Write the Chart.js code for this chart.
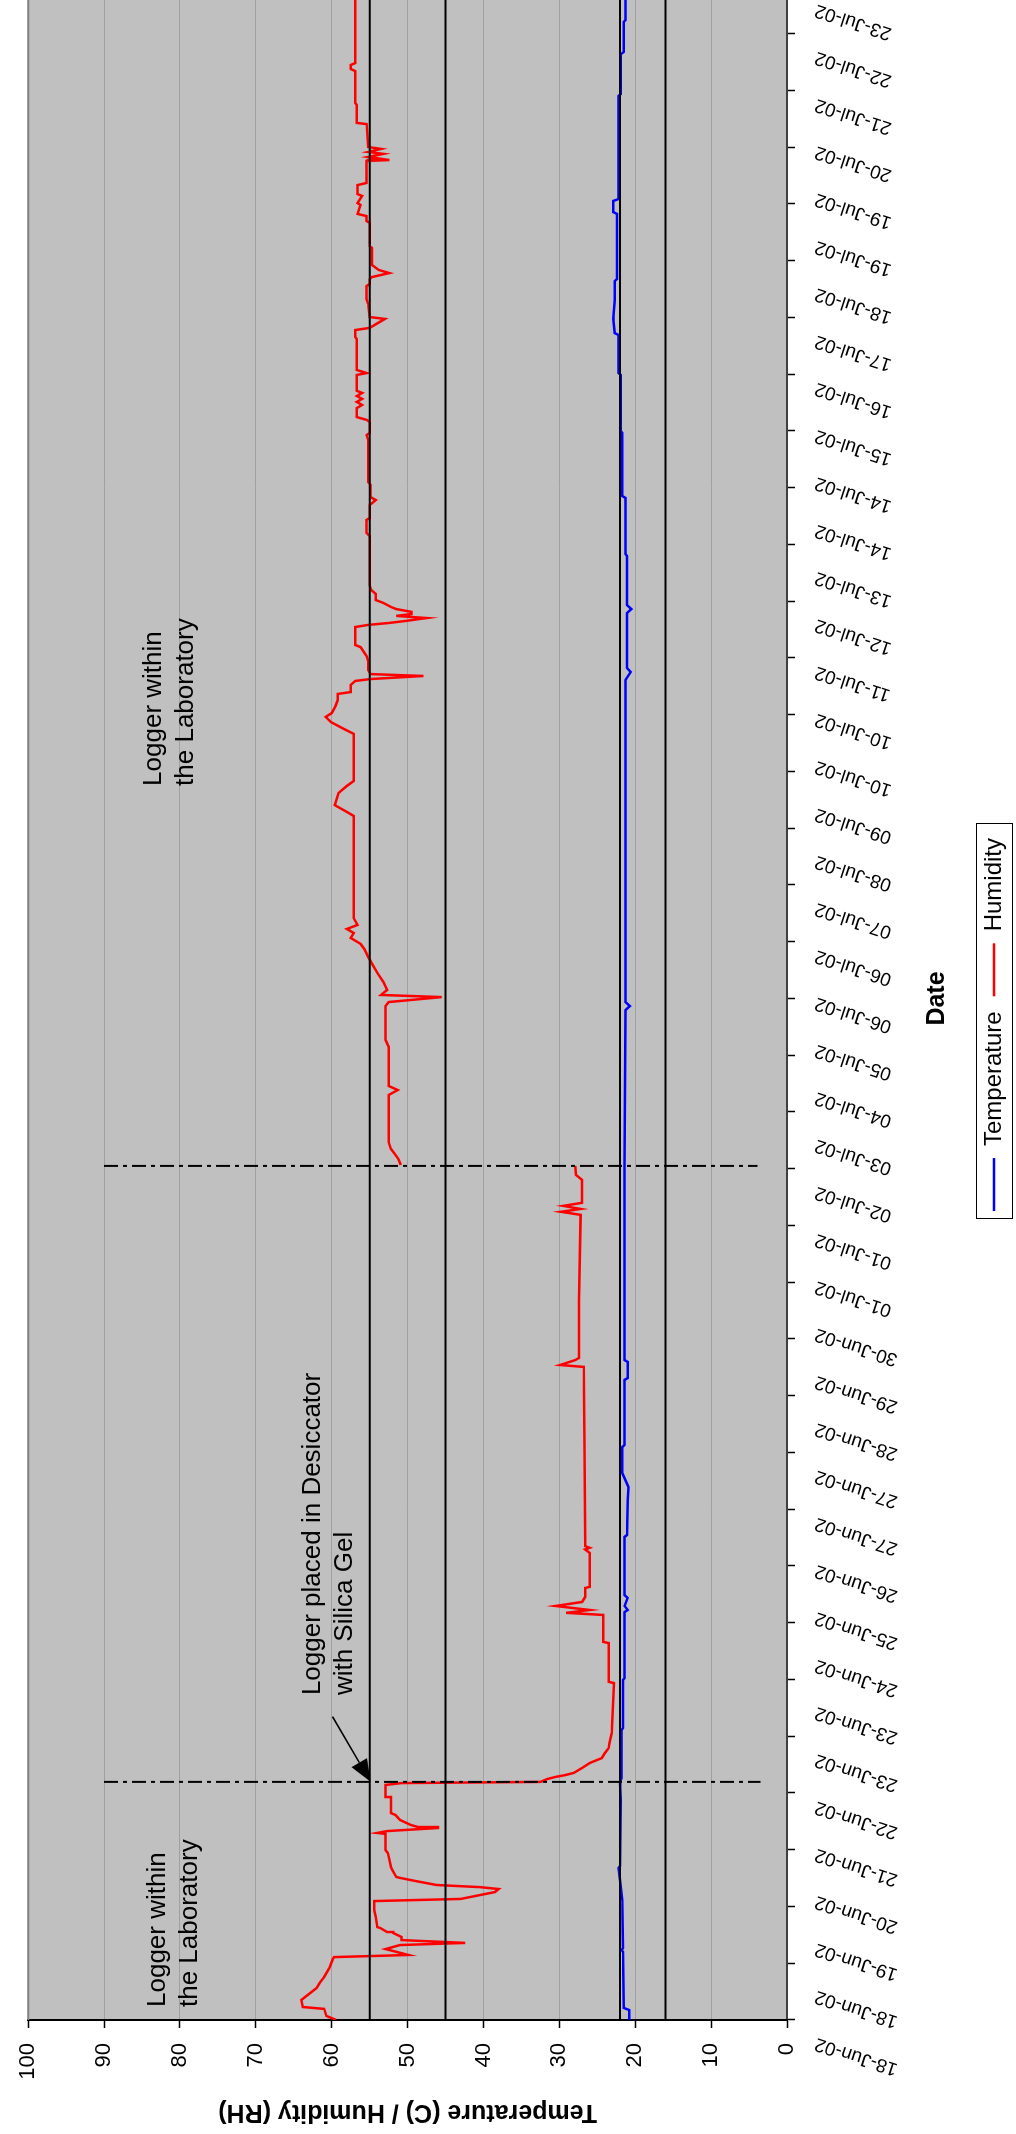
<!DOCTYPE html>
<html>
<head>
<meta charset="utf-8">
<title>Temperature and Humidity Log</title>
<script src="https://cdn.jsdelivr.net/npm/chart.js@4.4.1/dist/chart.umd.min.js"></script>
<style>
  html, body { margin: 0; padding: 0; background: #ffffff; overflow: hidden; width: 1016px; height: 2134px; }
  /* the chart is laid out landscape and turned a quarter turn anticlockwise onto the page */
  #wrap { position: absolute; left: 0; top: 0; width: 2219px; height: 1016px;
          transform-origin: 0 0; transform: translate(0, 2134px) rotate(-90deg); }
  canvas { display: block; }
</style>
</head>
<body>
<div id="wrap"><canvas id="chart" width="2219" height="1016"></canvas></div>
<script>
// elapsed time is in hours from the start of the logging period
const dateLabels = [
  '18-Jun-02','18-Jun-02','19-Jun-02','20-Jun-02','21-Jun-02','22-Jun-02','23-Jun-02','23-Jun-02',
  '24-Jun-02','25-Jun-02','26-Jun-02','27-Jun-02','27-Jun-02','28-Jun-02','29-Jun-02','30-Jun-02',
  '01-Jul-02','01-Jul-02','02-Jul-02','03-Jul-02','04-Jul-02','05-Jul-02','06-Jul-02','06-Jul-02',
  '07-Jul-02','08-Jul-02','09-Jul-02','10-Jul-02','10-Jul-02','11-Jul-02','12-Jul-02','13-Jul-02',
  '14-Jul-02','14-Jul-02','15-Jul-02','16-Jul-02','17-Jul-02','18-Jul-02','19-Jul-02','19-Jul-02',
  '20-Jul-02','21-Jul-02','22-Jul-02','23-Jul-02'
];
const labelStepHours = 20;     // one date label every 20 h
const tickStepHours = 24;      // one tick mark per day
const labelLeadHours = -9.7;   // first label sits before the axis origin
const spanHours = 864;

// humidity, first laboratory period and the desiccator period
const humidity1Hours = [
  0.0, 1.7, 4.7, 5.5, 8.5, 13.5, 15.6, 18.2, 22.0, 25.4,
  26.6, 27.5, 30.0, 31.7, 32.6, 33.8, 35.1, 36.8, 37.2, 38.9,
  39.3, 43.6, 46.5, 50.3, 51.2, 54.1, 55.4, 56.2, 57.1, 58.8,
  60.1, 60.5, 63.4, 64.7, 70.6, 71.9, 78.7, 79.1, 79.9, 81.2,
  81.6, 82.5, 84.6, 86.7, 87.5, 93.9, 94.3, 99.4, 100.2, 100.7,
  101.9, 102.8, 103.6, 104.5, 106.6, 108.7, 110.8, 112.9, 115.0, 117.2,
  121.4, 142.5, 143.0, 159.4, 159.9, 171.3, 172.2, 173.4, 175.1, 176.8,
  178.9, 182.7, 183.2, 197.5, 199.0, 199.7, 200.4, 242.3, 276.2, 277.0,
  279.1, 280.0, 304.5, 340.5, 341.8, 343.0, 344.3, 345.6, 355.3, 357.4,
  361.2
];
const humidity1Values = [
  59.4, 60.7, 61.0, 63.8, 64.0, 62.0, 61.6, 61.0, 60.3, 59.9,
  59.7, 49.9, 52.9, 51.0, 42.4, 50.8, 50.8, 51.9, 52.7, 53.6,
  54.0, 54.2, 54.4, 54.4, 43.0, 38.5, 38.0, 40.5, 46.2, 49.0,
  51.0, 51.5, 52.0, 52.2, 52.6, 52.9, 52.9, 54.0, 52.7, 46.0,
  48.6, 49.6, 51.0, 51.6, 52.2, 52.2, 52.9, 52.9, 50.8, 32.5,
  31.6, 30.5, 29.2, 28.1, 27.0, 26.0, 24.4, 24.0, 23.5, 23.4,
  23.1, 22.8, 23.5, 23.5, 24.2, 24.2, 29.1, 26.0, 30.5, 27.0,
  26.6, 26.6, 26.0, 26.0, 26.6, 26.0, 26.6, 26.7, 26.8, 29.9,
  27.9, 27.4, 27.4, 27.2, 29.8, 27.2, 29.5, 27.0, 27.0, 27.8,
  27.9
];

// humidity, second laboratory period
const humidity2Hours = [
  361.6, 364.1, 366.7, 368.4, 371.3, 391.2, 393.3, 395.0, 411.5, 414.5,
  428.8, 430.5, 432.6, 433.5, 435.6, 439.0, 442.4, 445.7, 449.6, 452.9,
  455.1, 457.6, 459.7, 461.4, 463.1, 466.0, 509.2, 510.9, 513.8, 518.9,
  521.9, 524.0, 543.9, 546.0, 548.9, 551.1, 552.7, 555.7, 558.2, 560.8,
  561.6, 564.6, 566.3, 567.1, 568.4, 569.2, 570.9, 574.7, 576.8, 580.6,
  581.5, 589.1, 590.0, 590.8, 591.7, 592.9, 593.8, 594.6, 595.5, 596.7,
  597.6, 599.3, 600.5, 603.1, 604.8, 606.9, 627.6, 628.9, 634.4, 635.2,
  640.7, 642.8, 644.1, 649.2, 650.4, 668.2, 670.3, 671.2, 675.8, 676.7,
  677.9, 681.7, 683.0, 684.3, 685.6, 686.8, 688.1, 689.0, 695.7, 696.5,
  697.8, 710.9, 711.8, 714.7, 715.6, 717.7, 719.4, 720.2, 725.7, 727.8,
  733.3, 734.2, 736.3, 737.1, 738.8, 740.1, 742.2, 749.4, 750.2, 760.0,
  760.8, 762.9, 763.8, 767.6, 768.4, 771.4, 772.2, 776.0, 776.9, 786.2,
  786.6, 787.9, 789.2, 790.0, 791.3, 792.1, 801.8, 802.3, 809.9, 810.7,
  824.2, 825.1, 826.8, 827.6, 864.0
];
const humidity2Values = [
  50.9, 51.2, 51.8, 52.2, 52.5, 52.5, 51.3, 52.5, 52.5, 52.9,
  52.9, 52.5, 45.5, 53.5, 52.7, 53.2, 53.9, 54.5, 55.2, 55.7,
  56.2, 57.5, 57.1, 58.0, 56.6, 57.1, 57.1, 58.0, 59.6, 59.1,
  58.0, 57.1, 57.1, 58.4, 60.1, 60.8, 60.0, 59.5, 59.2, 59.2,
  57.5, 57.5, 56.9, 54.9, 47.9, 54.9, 55.2, 55.2, 55.4, 56.2,
  56.9, 56.9, 55.2, 52.5, 50.2, 47.5, 51.5, 49.5, 49.5, 51.5,
  52.2, 53.2, 54.2, 54.2, 54.8, 55.0, 55.0, 55.4, 55.4, 55.0,
  55.0, 54.2, 54.9, 54.9, 55.2, 55.2, 55.4, 55.0, 55.0, 55.4,
  56.7, 56.7, 56.0, 56.7, 56.0, 56.7, 56.0, 56.7, 56.7, 55.4,
  56.7, 56.7, 56.9, 56.9, 55.0, 53.9, 53.0, 55.0, 55.2, 55.4,
  55.4, 55.0, 55.0, 54.7, 52.4, 53.8, 54.7, 54.7, 55.0, 55.0,
  55.4, 55.4, 56.6, 56.2, 56.6, 56.0, 56.6, 56.6, 55.4, 55.4,
  52.4, 55.2, 53.2, 55.2, 53.5, 55.2, 55.4, 56.7, 56.7, 56.9,
  56.9, 57.5, 57.5, 56.9, 56.9
];

const temperatureHours = [
  0.0, 4.2, 5.1, 28.8, 29.6, 30.4, 50.7, 59.2, 64.3, 65.1, 93.0, 100.7, 102.3, 122.6, 123.5, 143.8,
  144.6, 172.5, 173.4, 175.1, 178.5, 179.7, 204.3, 205.1, 219.9, 225.4, 231.3, 242.3, 243.2, 270.7,
  271.5, 278.3, 279.1, 361.2, 427.1, 428.8, 430.5, 566.7, 570.1, 571.8, 595.0, 596.7, 598.4, 619.1,
  620.0, 643.7, 644.5, 671.2, 672.0, 695.7, 696.5, 712.6, 713.4, 719.4, 727.4, 735.4, 736.3, 763.8,
  764.6, 769.3, 770.1, 813.7, 814.5, 831.4, 832.3, 845.0, 845.8, 864.0
];
const temperatureValues = [
  20.8, 20.8, 21.5, 21.6, 21.8, 21.6, 21.7, 22.0, 22.2, 22.0, 21.9, 22.0, 21.8, 21.8, 21.6, 21.6,
  21.4, 21.4, 21.0, 21.4, 21.0, 21.4, 21.4, 21.1, 21.0, 20.9, 21.7, 21.7, 21.4, 21.4,
  21.0, 21.0, 21.4, 21.4, 21.3, 20.7, 21.3, 21.3, 20.6, 21.1, 21.1, 20.5, 21.1, 21.1,
  21.3, 21.3, 21.7, 21.7, 21.9, 21.9, 22.2, 22.2, 22.7, 22.9, 22.7, 22.7, 22.4, 22.4,
  22.9, 22.9, 22.2, 22.2, 21.9, 21.9, 21.5, 21.5, 21.3, 21.3
];

// acceptable ranges: humidity 45-55 %RH, temperature 16-22 C
const limitLevels = [55, 45, 22, 16];

// moments the logger was moved
const moveHours = [100.7, 361.2];
const moveTop = [90, 90];
const moveBottom = [3.5, 3.9];

// text notes: anchor hour, value at the top of the first line
const noteLines = [
  ['Logger within', 'the Laboratory'],
  ['Logger placed in Desiccator', 'with Silica Gel'],
  ['Logger within', 'the Laboratory']
];
const noteHours = [5.5, 137.4, 521.9];
const noteValues = [84.5, 64.0, 84.9];

// arrow from the desiccator note to the moment of transfer
const arrowFrom = [128.3, 59.9];
const arrowTo = [100.8, 54.9];

const FONT = '"Liberation Sans", Arial, Helvetica, sans-serif';
Chart.defaults.font.family = FONT;
Chart.defaults.color = '#000000';

const toPoints = (xs, ys) => xs.map((x, i) => ({ x: x, y: ys[i] }));

const humidityPoints = toPoints(humidity1Hours, humidity1Values)
  .concat([{ x: 361.4, y: null }])
  .concat(toPoints(humidity2Hours, humidity2Values));

const datasets = [
  { label: 'Temperature', data: toPoints(temperatureHours, temperatureValues),
    borderColor: '#0000ff', backgroundColor: '#0000ff', borderWidth: 2.5, order: 5 },
  { label: 'Humidity', data: humidityPoints,
    borderColor: '#ff0000', backgroundColor: '#ff0000', borderWidth: 2.5, order: 6, spanGaps: false }
];
limitLevels.forEach((lvl) => {
  datasets.push({ label: 'limit', data: [{ x: 0, y: lvl }, { x: spanHours, y: lvl }],
    borderColor: '#000000', borderWidth: 2, order: 1 });
});
moveHours.forEach((h, i) => {
  datasets.push({ label: 'move', data: [{ x: h, y: moveTop[i] }, { x: h, y: moveBottom[i] }],
    borderColor: '#000000', borderWidth: 2, borderDash: [14, 5, 4, 5], order: 1 });
});

const plotBackground = {
  id: 'plotBackground',
  beforeDraw(chart) {
    const { ctx, chartArea: a } = chart;
    ctx.save();
    ctx.fillStyle = '#c0c0c0';
    ctx.fillRect(a.left, a.top, a.right - a.left, a.bottom - a.top);
    ctx.restore();
  },
  beforeDatasetsDraw(chart) {
    const { ctx, chartArea: a } = chart;
    ctx.save();
    ctx.strokeStyle = '#808080';
    ctx.lineWidth = 2;
    ctx.beginPath();
    ctx.moveTo(a.left, a.top);
    ctx.lineTo(a.right, a.top);
    ctx.lineTo(a.right, a.bottom);
    ctx.stroke();
    ctx.restore();
  }
};

const notes = {
  id: 'notes',
  afterDatasetsDraw(chart) {
    const { ctx } = chart;
    const xs = chart.scales.x, ys = chart.scales.y;
    const size = 26, lineGap = 32;
    ctx.save();
    ctx.fillStyle = '#000000';
    ctx.font = size + 'px ' + FONT;
    ctx.textAlign = 'left';
    ctx.textBaseline = 'alphabetic';
    noteLines.forEach((lines, i) => {
      const x = xs.getPixelForValue(noteHours[i]);
      const top = ys.getPixelForValue(noteValues[i]);
      lines.forEach((t, k) => ctx.fillText(t, x, top + 0.72 * size + k * lineGap));
    });
    // arrow
    const x0 = xs.getPixelForValue(arrowFrom[0]), y0 = ys.getPixelForValue(arrowFrom[1]);
    const x1 = xs.getPixelForValue(arrowTo[0]), y1 = ys.getPixelForValue(arrowTo[1]);
    const ang = Math.atan2(y1 - y0, x1 - x0);
    const headLen = 22, headHalf = 9;
    const bx = x1 - headLen * Math.cos(ang), by = y1 - headLen * Math.sin(ang);
    ctx.strokeStyle = '#000000';
    ctx.lineWidth = 1.5;
    ctx.beginPath();
    ctx.moveTo(x0, y0);
    ctx.lineTo(bx, by);
    ctx.stroke();
    ctx.beginPath();
    ctx.moveTo(x1, y1);
    ctx.lineTo(bx + headHalf * Math.sin(ang), by - headHalf * Math.cos(ang));
    ctx.lineTo(bx - headHalf * Math.sin(ang), by + headHalf * Math.cos(ang));
    ctx.closePath();
    ctx.fill();
    ctx.restore();
  }
};

const legendFrame = {
  id: 'legendFrame',
  afterDraw(chart) {
    const lg = chart.legend;
    if (!lg || !lg.legendHitBoxes || !lg.legendHitBoxes.length) return;
    const hb = lg.legendHitBoxes;
    const left = Math.min(...hb.map(b => b.left)) - 8;
    const right = Math.max(...hb.map(b => b.left + b.width)) + 14;
    const top = Math.min(...hb.map(b => b.top)) - 6;
    const bottom = Math.max(...hb.map(b => b.top + b.height)) + 6;
    const { ctx } = chart;
    ctx.save();
    ctx.strokeStyle = '#000000';
    ctx.lineWidth = 1;
    ctx.strokeRect(Math.round(left) + 0.5, Math.round(top) + 0.5, Math.round(right - left), Math.round(bottom - top));
    ctx.restore();
  }
};

new Chart(document.getElementById('chart'), {
  type: 'line',
  data: { datasets: datasets },
  plugins: [plotBackground, notes, legendFrame],
  options: {
    responsive: false,
    animation: false,
    devicePixelRatio: 1,
    layout: { padding: { top: 21, left: 0, right: 0, bottom: 0 } },
    elements: { point: { radius: 0, hoverRadius: 0 }, line: { tension: 0 } },
    plugins: {
      tooltip: { enabled: false },
      legend: {
        position: 'bottom',
        labels: {
          filter: (item) => item.text === 'Temperature' || item.text === 'Humidity',
          usePointStyle: true,
          pointStyle: 'line',
          pointStyleWidth: 53,
          font: { size: 24 },
          color: '#000000',
          padding: 15
        }
      }
    },
    scales: {
      x: {
        type: 'linear', position: 'bottom', min: 0, max: spanHours, bounds: 'data', weight: 0,
        ticks: { display: false, stepSize: tickStepHours, includeBounds: false, autoSkip: false, maxTicksLimit: 200 },
        grid: { display: true, drawOnChartArea: false, drawTicks: true, tickLength: 8, tickColor: '#000000', tickWidth: 1.5 },
        border: { display: true, color: '#404040', width: 2 },
        afterFit: (s) => { s.height = 8; }
      },
      xLabels: {
        type: 'linear', position: 'bottom', min: 0, max: spanHours, bounds: 'data', weight: 1,
        ticks: {
          stepSize: labelStepHours, includeBounds: false, autoSkip: false, maxTicksLimit: 200,
          minRotation: 72, maxRotation: 72, padding: 17,
          labelOffset: labelLeadHours * 2043 / spanHours,
          font: { size: 19 }, color: '#000000',
          callback: (v) => {
            const i = v / labelStepHours;
            return Math.abs(i - Math.round(i)) < 1e-6 ? (dateLabels[Math.round(i)] || '') : '';
          }
        },
        grid: { display: false, drawTicks: false },
        border: { display: false },
        title: { display: true, text: 'Date', font: { size: 25, weight: 'bold' }, color: '#000000', padding: { top: 0, bottom: 15 } },
        afterFit: (s) => { s.height = s.chart.height - 795 - (s.chart.legend ? s.chart.legend.height : 0); }
      },
      y: {
        type: 'linear', position: 'left', min: 0, max: 100,
        ticks: { stepSize: 10, padding: 15, font: { size: 22 }, color: '#000000' },
        grid: { color: '#a0a0a0', lineWidth: 1, drawTicks: true, tickLength: 8, tickColor: '#000000', tickWidth: 1.5 },
        border: { display: true, color: '#000000', width: 2 },
        title: { display: true, text: 'Temperature (C) / Humidity (RH)', font: { size: 25, weight: 'bold' }, color: '#000000', padding: { top: 7, bottom: 0 } },
        afterFit: (s) => { s.width = 114; }
      },
      yPad: {
        type: 'linear', position: 'right', display: true,
        ticks: { display: false }, grid: { display: false }, border: { display: false },
        afterFit: (s) => { s.width = 62; }
      }
    }
  }
});
</script>
</body>
</html>
